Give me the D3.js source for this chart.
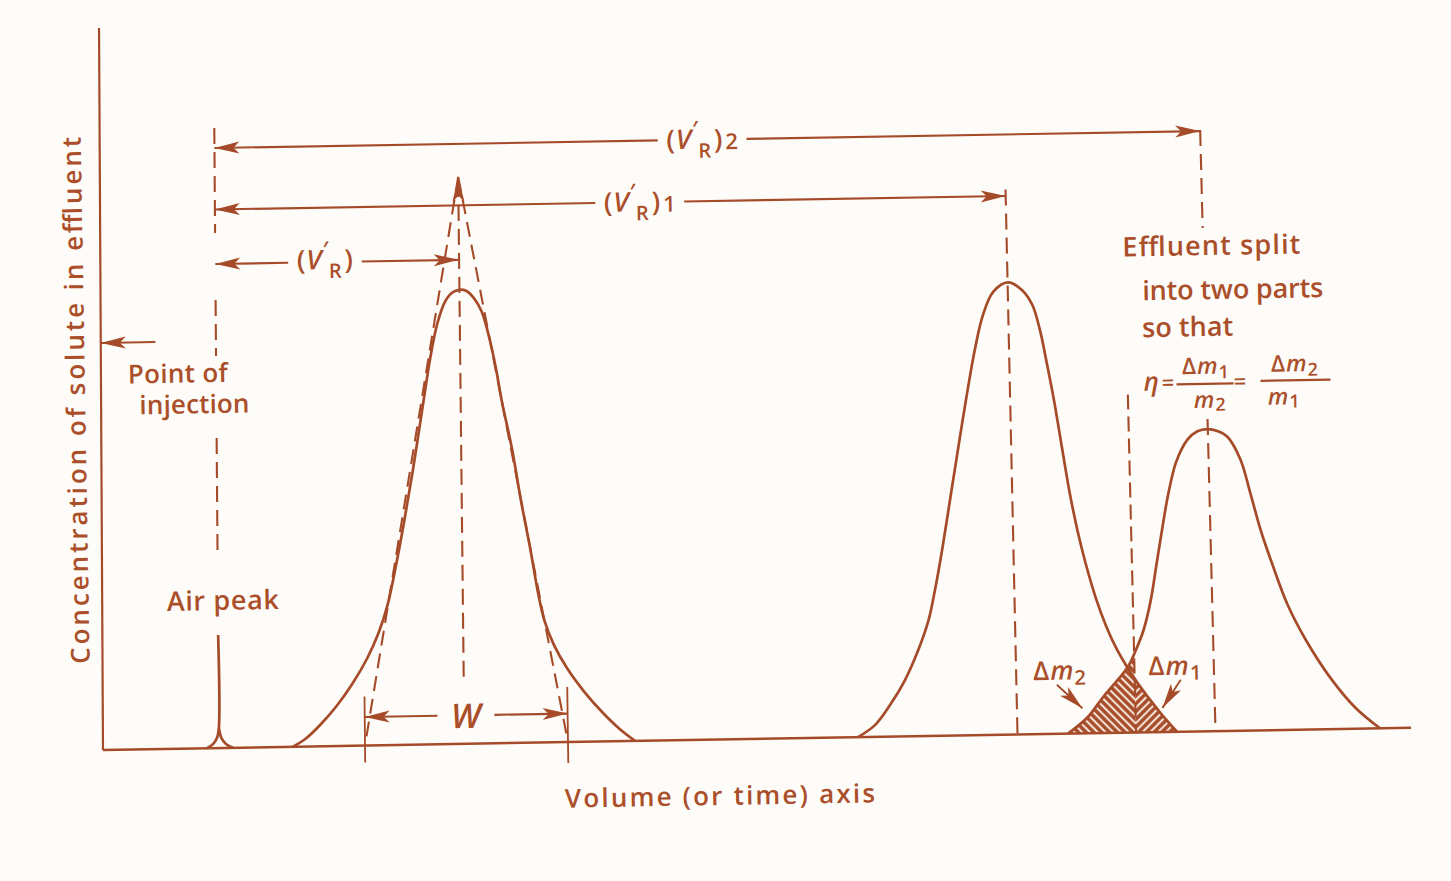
<!DOCTYPE html>
<html>
<head>
<meta charset="utf-8">
<script src="https://cdn.jsdelivr.net/npm/d3@7"></script>
<style>
  html, body { margin: 0; padding: 0; background: #fefcf8; }
  svg { display: block; }
  text { font-family: "Open Sans", "DejaVu Sans", sans-serif; fill: #ab4f2b; font-weight: 600; }
</style>
</head>
<body>
<svg id="chart" width="1451" height="881"></svg>
<script>
// ---------- data: effluent volume (x) and solute concentration (y) ----------
const injectionVolume = 11.6;
const airPeakLeft  = [[10.4, 0], [11.0, 0.4], [11.4, 1.0], [11.6, 2.0], [11.6, 11.3]];
const airPeakRight = [[11.6, 2.0], [11.85, 1.0], [12.3, 0.4], [13.0, 0]];

const peak1 = [[19.0,0],[20.3,0.8],[21.8,2.2],[23.4,4.0],[25.0,6.2],[26.5,8.7],[27.7,11.3],
  [28.6,14.0],[29.4,17.5],[30.3,22.0],[31.3,27.5],[32.3,33.5],[33.2,38.8],[33.9,42.0],[34.7,44.2],
  [35.4,45.1],[36.15,45.4],[36.85,45.3],[37.6,44.6],[38.4,43.2],[39.2,40.3],[39.8,37.3],[40.3,34.3],
  [41.3,29.3],[42.1,24.3],[43.0,19.3],[43.7,15.0],[44.3,12.2],[45.2,9.8],[46.5,7.4],[48.2,5.0],
  [50.0,2.9],[51.6,1.3],[53.2,0]];

const peak2 = [[75.5,0],[77.25,1.2],[78.8,3.2],[80.3,5.6],[81.7,8.6],[82.8,11.6],[83.5,14.6],
  [84.3,18.6],[85.2,23.6],[86.1,28.6],[87.0,33.5],[88.0,38.5],[88.9,42.0],[90.0,44.3],[91.5,45.2],
  [92.9,44.4],[93.9,42.9],[94.6,40.4],[95.25,36.9],[95.85,33.4],[96.55,28.6],[97.3,23.6],[98.3,18.5],
  [99.6,13.5],[100.6,10.6],[101.6,8.3],[102.6,6.5],[103.6,4.9],[104.6,3.5],[105.8,1.9],[107.4,0]];

const peak3 = [[96.5,0],[98.5,1.6],[100.1,3.6],[102.6,6.5],[103.4,8.05],[104.3,10.2],[105.1,13.2],
  [105.75,16.7],[106.4,20.2],[107.1,23.7],[108.0,27.0],[109.2,29.2],[110.2,30.0],[111.2,30.2],
  [112.2,30.0],[113.2,29.4],[114.45,27.1],[115.4,23.55],[116.3,20.0],[117.4,16.5],[118.8,12.5],
  [120.5,9.0],[122.9,5.1],[125.3,2.1],[127.7,0]];

const peakCentres = [36.15, 91.45, 111.25];      // retention volumes of the three peaks
const tangentApex = [36.2, 56.7];                  // where the inflection tangents of peak 1 meet
const peakWidthEnds = [26.2, 46.5];               // base width W of peak 1
const cutVolume = 103.3;                           // where the effluent is split
const retentionSubscripts = ["", "1", "2"];

// ---------- scales ----------
const x = d3.scaleLinear().domain([0, 131]).range([103, 1413]);
const y = d3.scaleLinear().domain([0, 72]).range([750, 30]);
const X0 = x(0), Y0 = y(0);

// the drawing sits slightly skewed on the sheet
const TILT = 0.017, LEAN0 = 0.0055, LEAN1 = 0.000018;
function page(v, c) {
  const px = x(v), py = y(c);
  const lean = LEAN0 + LEAN1 * (px - X0);
  return [px + lean * (py - Y0), py - TILT * (px - X0)];
}
const ROT = -Math.atan(TILT) * 180 / Math.PI;
const pxPerUnit = x(1) - x(0);

const INK = "#a64b29";
const svg = d3.select("#chart");
const defs = svg.append("defs");

defs.append("marker").attr("id", "head")
  .attr("viewBox", "-27 -7 28 14").attr("refX", 0).attr("refY", 0)
  .attr("markerWidth", 28).attr("markerHeight", 14)
  .attr("markerUnits", "userSpaceOnUse").attr("orient", "auto")
  .append("path").attr("d", "M0,0 L-25,-6 L-19,0 L-25,6 Z").attr("fill", INK);

function hatch(id, angle) {
  const p = defs.append("pattern").attr("id", id)
    .attr("patternUnits", "userSpaceOnUse").attr("width", 5.5).attr("height", 5.5)
    .attr("patternTransform", `rotate(${angle})`);
  p.append("rect").attr("width", 5.5).attr("height", 5.5).attr("fill", "#f4e2d6");
  p.append("line").attr("x1", 2.75).attr("y1", 0).attr("x2", 2.75).attr("y2", 5.5)
    .attr("stroke", INK).attr("stroke-width", 3.4);
}
hatch("hatchBack", -45);
hatch("hatchFwd", 45);

function clipBand(id, v0, v1) {
  const corners = [[v0, -1], [v1, -1], [v1, 40], [v0, 40]].map(d => page(d[0], d[1]));
  defs.append("clipPath").attr("id", id)
    .append("polygon").attr("points", corners.map(p => p.join(",")).join(" "));
}
clipBand("beforeCut", 90, cutVolume);
clipBand("afterCut", cutVolume, 115);

const straight = d3.line().x(d => page(d[0], d[1])[0]).y(d => page(d[0], d[1])[1]);
const smooth = d3.line().x(d => page(d[0], d[1])[0]).y(d => page(d[0], d[1])[1])
  .curve(d3.curveCatmullRom.alpha(0.5));

const g = svg.append("g");

function seg(a, b, opt = {}) {
  const p = g.append("path").attr("d", straight([a, b]))
    .attr("fill", "none").attr("stroke", INK)
    .attr("stroke-width", opt.w || 2.1).attr("stroke-linecap", "butt");
  if (opt.dash) p.attr("stroke-dasharray", opt.dash);
  if (opt.head) p.attr("marker-end", "url(#head)");
  return p;
}

// ---------- shaded overlap: Δm2 before the cut, Δm1 after it ----------
g.append("path").attr("d", smooth(peak3) + "Z")
  .attr("fill", "url(#hatchBack)").attr("clip-path", "url(#beforeCut)");
g.append("path").attr("d", smooth(peak2) + "Z")
  .attr("fill", "url(#hatchFwd)").attr("clip-path", "url(#afterCut)");

// ---------- axes ----------
seg([0, 0], [0, 72.2], { w: 2.2 });
seg([0, 0], [130.8, 0], { w: 2.5 });

// ---------- peaks ----------
[airPeakLeft, airPeakRight, peak1, peak2, peak3].forEach(d => {
  g.append("path").attr("d", smooth(d)).attr("fill", "none")
    .attr("stroke", INK).attr("stroke-width", 2.7).attr("stroke-linejoin", "round");
});

// ---------- construction lines ----------
const DASH = "16,8";
// point of injection
seg([injectionVolume, 62], [injectionVolume, 51.5], { dash: DASH });
seg([injectionVolume, 44.8], [injectionVolume, 39.2], { dash: DASH });
seg([injectionVolume, 31.0], [injectionVolume, 19.0], { dash: DASH });
// peak 1 centre and tangents
seg([peakCentres[0], 6.7], tangentApex, { dash: DASH, head: true });
seg(tangentApex, [peakWidthEnds[0], 0], { dash: "15,8" });
seg(tangentApex, [peakWidthEnds[1], 0], { dash: "15,8" });
// peak 2 and peak 3 centres
seg([peakCentres[1], 54.5], [peakCentres[1], 0], { dash: DASH });
seg([peakCentres[2], 60.1], [peakCentres[2], 50.3], { dash: DASH });
seg([peakCentres[2], 31.2], [peakCentres[2], 0], { dash: DASH });
// split line
seg([cutVolume, 33.8], [cutVolume, 0], { dash: "15,7" });

// width ticks
seg([peakWidthEnds[0], 4.9], [peakWidthEnds[0], -1.7], { w: 1.8 });
seg([peakWidthEnds[1], 5.5], [peakWidthEnds[1], -2.1], { w: 1.8 });

// point of injection arrow on the concentration axis
seg([5.5, 40.7], [0, 40.7], { head: true });

// ---------- text helpers ----------
function place(v, c, extraRot = 0) {
  const [px, py] = page(v, c);
  return `translate(${px},${py}) rotate(${ROT + extraRot})`;
}
function note(str, v, c, opt = {}) {
  const t = g.append("text").attr("transform", place(v, c, opt.rot || 0))
    .attr("text-anchor", opt.anchor || "middle")
    .attr("font-size", opt.size || 29).text(str);
  if (opt.len) t.attr("textLength", opt.len).attr("lengthAdjust", "spacing");
  if (opt.italic) t.attr("font-style", "italic");
  return t;
}

// retention arrows with their (V'R) labels in a gap
function retention(level, from, to, labelV, sub, dy) {
  const grp = g.append("g").attr("transform", place(labelV, level));
  const t = grp.append("text").attr("text-anchor", "middle").attr("y", dy).attr("font-size", 27);
  t.append("tspan").text("(");
  t.append("tspan").attr("font-style", "italic").attr("dx", 1).text("V");
  t.append("tspan").attr("font-size", 22).attr("dx", 1).attr("dy", -12).text("′");
  t.append("tspan").attr("font-size", 20).attr("dx", 0).attr("dy", 21).text("R");
  t.append("tspan").attr("dx", 3).attr("dy", -9).text(")");
  if (sub) t.append("tspan").attr("font-size", 22).attr("dx", 3).attr("dy", 1).text(sub);
  const bb = t.node().getBBox();
  const half = (bb.width / 2 + 9) / pxPerUnit;
  seg([labelV - half, level], [from, level], { head: true });
  seg([labelV + half, level], [to, level], { head: true });
}
retention(48.4, injectionVolume, peakCentres[0], 22.66, retentionSubscripts[0], 7);
retention(53.85, injectionVolume, peakCentres[1], 54.5, retentionSubscripts[1], 9);
retention(60.0, injectionVolume, peakCentres[2], 60.9, retentionSubscripts[2], 9);

// base width W
(function () {
  const wv = 36.33, level = 2.85;
  const t = note("W", wv, 1.58, { size: 34, italic: true });
  const half = (t.node().getBBox().width / 2 + 12) / pxPerUnit;
  seg([wv - half, level], [peakWidthEnds[0], level], { head: true });
  seg([wv + half, level], [peakWidthEnds[1], level], { head: true });
})();

// plain labels
note("Point of", 7.75, 36.6, { size: 26, len: 100 });
note("injection", 9.4, 33.5, { size: 26, len: 110 });
note("Air peak", 12.1, 13.8, { size: 27, len: 112 });
note("Effluent split", 103.1, 47.6, { size: 27, anchor: "start", len: 178 });
note("into two parts", 105.0, 43.2, { size: 27, anchor: "start", len: 181 });
note("so that", 104.9, 39.5, { size: 27, anchor: "start", len: 91 });
note("Volume (or time) axis", 61.6, -6.55, { size: 26, len: 310 });
note("Concentration of solute in effluent", -1.6, 35.0, { size: 26, len: 527, rot: -90 });

// Δm labels with their arrows
function deltaM(grp, xPos, yPos, sub, size, anchor) {
  const t = grp.append("text").attr("x", xPos).attr("y", yPos)
    .attr("font-size", size).attr("text-anchor", anchor);
  t.append("tspan").text("Δ");
  t.append("tspan").attr("font-style", "italic").attr("dx", 1).text("m");
  t.append("tspan").attr("font-size", size * 0.78).attr("dx", 1).attr("dy", size * 0.2).text(sub);
  return t;
}
deltaM(g.append("g").attr("transform", place(93.15, 5.4)), 0, 0, "2", 26, "start");
deltaM(g.append("g").attr("transform", place(104.7, 5.7)), 0, 0, "1", 26, "start");
seg([95.5, 4.9], [98.0, 2.5], { w: 1.9, head: true });
seg([107.9, 5.2], [106.0, 2.4], { w: 1.9, head: true });

// split ratio η = Δm1/m2 = Δm2/m1
(function () {
  const eq = g.append("g").attr("transform", place(104.9, 34.13));
  eq.append("text").attr("x", 0).attr("y", 0).attr("font-size", 26)
    .attr("font-style", "italic").text("η");
  eq.append("text").attr("x", 18).attr("y", 0).attr("font-size", 22).text("=");
  eq.append("line").attr("x1", 33).attr("x2", 90).attr("y1", -6).attr("y2", -6)
    .attr("stroke", INK).attr("stroke-width", 2.2);
  deltaM(eq, 62, -16, "1", 23, "middle");
  const d1 = eq.append("text").attr("x", 66).attr("y", 18).attr("font-size", 23).attr("text-anchor", "middle");
  d1.append("tspan").attr("font-style", "italic").text("m");
  d1.append("tspan").attr("font-size", 18).attr("dx", 1).attr("dy", 3).text("2");
  eq.append("text").attr("x", 90).attr("y", 0).attr("font-size", 22).text("=");
  eq.append("line").attr("x1", 117).attr("x2", 187).attr("y1", -8).attr("y2", -8)
    .attr("stroke", INK).attr("stroke-width", 2.2);
  deltaM(eq, 151, -17, "2", 23, "middle");
  const d2 = eq.append("text").attr("x", 140).attr("y", 16).attr("font-size", 23).attr("text-anchor", "middle");
  d2.append("tspan").attr("font-style", "italic").text("m");
  d2.append("tspan").attr("font-size", 18).attr("dx", 1).attr("dy", 3).text("1");
})();
</script>
</body>
</html>
